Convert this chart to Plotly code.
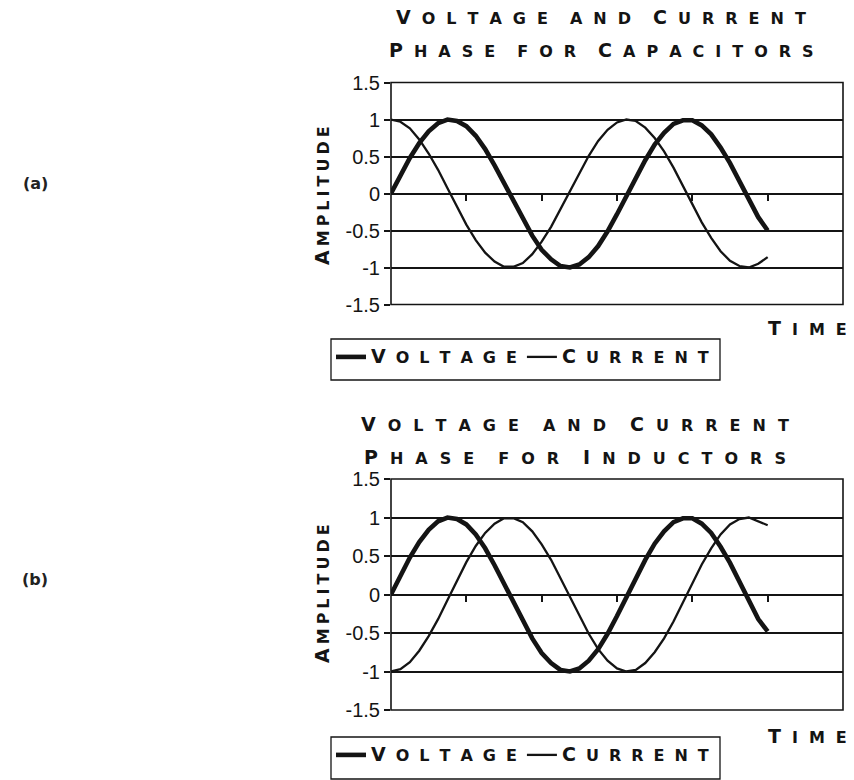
import plotly.graph_objects as go

# ---------------- data ----------------
time_t = [0, 0.25, 0.5, 0.75, 1.0, 1.25, 1.5, 1.75, 2.0, 2.25, 2.5, 2.75, 3.0, 3.25, 3.5,
          3.75, 4.0, 4.25, 4.5, 4.75, 5.0, 5.25, 5.5, 5.75, 6.0, 6.25, 6.5, 6.75, 7.0,
          7.25, 7.5, 7.75, 8.0, 8.25, 8.5, 8.75, 9.0, 9.25, 9.5, 9.75, 10.0]

cap_voltage = [0.00, 0.25, 0.48, 0.68, 0.84, 0.95, 1.00, 0.98, 0.91, 0.78, 0.60, 0.38, 0.14,
               -0.11, -0.35, -0.57, -0.76, -0.89, -0.98, -1.00, -0.96, -0.86, -0.71, -0.51,
               -0.28, -0.03, 0.22, 0.45, 0.66, 0.82, 0.94, 0.99, 0.99, 0.92, 0.80, 0.62,
               0.41, 0.17, -0.08, -0.32, -0.50]
cap_current = [1.00, 0.97, 0.88, 0.73, 0.54, 0.32, 0.07, -0.18, -0.42, -0.63, -0.80, -0.92,
               -0.99, -0.99, -0.94, -0.82, -0.65, -0.45, -0.21, 0.04, 0.28, 0.51, 0.71, 0.86,
               0.96, 1.00, 0.98, 0.89, 0.75, 0.57, 0.35, 0.10, -0.15, -0.39, -0.60, -0.78,
               -0.91, -0.98, -1.00, -0.95, -0.86]

ind_voltage = [0.00, 0.25, 0.48, 0.68, 0.84, 0.95, 1.00, 0.98, 0.91, 0.78, 0.60, 0.38, 0.14,
               -0.11, -0.35, -0.57, -0.76, -0.89, -0.98, -1.00, -0.96, -0.86, -0.71, -0.51,
               -0.28, -0.03, 0.22, 0.45, 0.66, 0.82, 0.94, 0.99, 0.99, 0.92, 0.80, 0.62,
               0.41, 0.17, -0.08, -0.32, -0.48]
ind_current = [-1.00, -0.97, -0.88, -0.73, -0.54, -0.32, -0.07, 0.18, 0.42, 0.63, 0.80, 0.92,
               0.99, 0.99, 0.94, 0.82, 0.65, 0.45, 0.21, -0.04, -0.28, -0.51, -0.71, -0.86,
               -0.96, -1.00, -0.98, -0.89, -0.75, -0.57, -0.35, -0.10, 0.15, 0.39, 0.60, 0.78,
               0.91, 0.98, 1.00, 0.95, 0.90]

y_ticks = [-1.5, -1, -0.5, 0, 0.5, 1, 1.5]
y_labels = ["-1.5", "-1", "-0.5", "0", "0.5", "1", "1.5"]
x_ticks = [2, 4, 6, 8, 10]
x_range = [0, 12]

series_names = ["Voltage", "Current"]
titles = [["Voltage and Current", "Phase for Capacitors"],
          ["Voltage and Current", "Phase for Inductors"]]
panel_labels = ["(a)", "(b)"]
x_title = "Time"
y_title = "Amplitude"

# ---------------- layout helpers ----------------
W, H = 854, 780
TITLE_FONT = "DejaVu Sans"
INK = "#141414"
BIG, SMALL = 19, 16


def px(xp):
    return xp / W


def py(yp):
    return 1 - yp / H


def spacer(g):
    return f'<span style="font-size:{g}px">\u2003</span>'


def smallcaps(text, big, small, gap, wgap):
    words = []
    for word in text.split(" "):
        letters = []
        for i, ch in enumerate(word):
            size = big if (i == 0 and ch.isupper()) else small
            letters.append(f'<span style="font-size:{size}px">{ch.upper()}</span>')
        words.append(spacer(gap).join(letters))
    return spacer(wgap).join(words)


X0, X1 = 391, 843
panels = [
    {"ytop": 82.5, "ybot": 304.5, "title_y": [16, 49], "title_x": 601, "gap": 11,
     "time_y": 328, "amp_y": 196, "label_y": 183, "legend_box": (331, 339, 720, 380)},
    {"ytop": 479, "ybot": 710, "title_y": [423, 456], "title_x": 575, "gap": 12,
     "time_y": 736, "amp_y": 594, "label_y": 579, "legend_box": (331, 737, 720, 779)},
]
data_sets = [(cap_voltage, cap_current), (ind_voltage, ind_current)]

fig = go.Figure()
shapes = []
annotations = []
layout_axes = {}
title_font = dict(family=TITLE_FONT, size=SMALL, color=INK, weight="bold")

for k, (panel, (volt, curr)) in enumerate(zip(panels, data_sets)):
    n = "" if k == 0 else str(k + 1)
    xa, ya = "x" + n, "y" + n
    leg = "legend" + n
    d0, d1 = py(panel["ybot"]), py(panel["ytop"])
    g = panel["gap"]

    fig.add_trace(go.Scatter(x=time_t, y=volt, mode="lines", xaxis=xa, yaxis=ya,
                             name=smallcaps(series_names[0], BIG, SMALL, 10, 10),
                             line=dict(color=INK, width=4.6), legend=leg))
    fig.add_trace(go.Scatter(x=time_t, y=curr, mode="lines", xaxis=xa, yaxis=ya,
                             name=smallcaps(series_names[1], BIG, SMALL, 10, 10),
                             line=dict(color=INK, width=2.3), legend=leg))

    layout_axes["xaxis" + n] = dict(
        domain=[px(X0), px(X1)], range=x_range, anchor="free", position=(d0 + d1) / 2,
        tickmode="array", tickvals=x_ticks, showticklabels=False, ticks="outside",
        ticklen=6, tickwidth=1.5, tickcolor=INK, showgrid=False, zeroline=False,
        showline=False, fixedrange=True)
    layout_axes["yaxis" + n] = dict(
        domain=[d0, d1], range=[-1.5, 1.5], anchor=xa, tickmode="array",
        tickvals=y_ticks, ticktext=y_labels, ticks="outside", ticklen=6, tickwidth=1.5,
        tickcolor=INK, showgrid=True, gridcolor=INK, gridwidth=1.6,
        zeroline=False, showline=False, automargin=False,
        tickfont=dict(family="Liberation Sans", size=20, color=INK))

    # plot frame
    shapes.append(dict(type="rect", xref=xa + " domain", yref=ya + " domain",
                       x0=0, x1=1, y0=0, y1=1, line=dict(color=INK, width=1.6)))
    # legend frame
    bx0, by0, bx1, by1 = panel["legend_box"]
    shapes.append(dict(type="rect", xref="paper", yref="paper", x0=px(bx0), x1=px(bx1),
                       y0=py(by1), y1=py(by0), line=dict(color=INK, width=1.3)))

    layout_axes[leg] = dict(x=px(bx0), y=py(by0 + 1), xanchor="left", yanchor="top",
                            orientation="h", bgcolor="rgba(0,0,0,0)", borderwidth=0,
                            font=title_font, itemwidth=30, tracegroupgap=0)

    for line_text, ty in zip(titles[k], panel["title_y"]):
        annotations.append(dict(text=smallcaps(line_text, BIG, SMALL, g, 2 * g),
                                x=px(panel["title_x"]), y=py(ty), xref="paper", yref="paper",
                                xanchor="center", yanchor="middle", showarrow=False,
                                font=title_font))
    annotations.append(dict(text=smallcaps(x_title, BIG, SMALL, 11, 22), x=px(849),
                            y=py(panel["time_y"]), xref="paper", yref="paper",
                            xanchor="right", yanchor="middle", showarrow=False,
                            font=title_font))
    annotations.append(dict(text=smallcaps(y_title, BIG, SMALL, 4, 8), x=px(322),
                            y=py(panel["amp_y"]), xref="paper", yref="paper",
                            xanchor="center", yanchor="middle", textangle=-90,
                            showarrow=False, font=title_font))
    annotations.append(dict(text=panel_labels[k], x=px(35), y=py(panel["label_y"]),
                            xref="paper", yref="paper", xanchor="center", yanchor="middle",
                            showarrow=False,
                            font=dict(family="DejaVu Sans", size=16, color="#222222",
                                      weight="bold")))

fig.update_layout(
    width=W, height=H, margin=dict(l=0, r=0, t=0, b=0, autoexpand=False),
    paper_bgcolor="white", plot_bgcolor="white", showlegend=True,
    shapes=shapes, annotations=annotations, **layout_axes)

fig.write_html("out.html", config={"displayModeBar": False})
